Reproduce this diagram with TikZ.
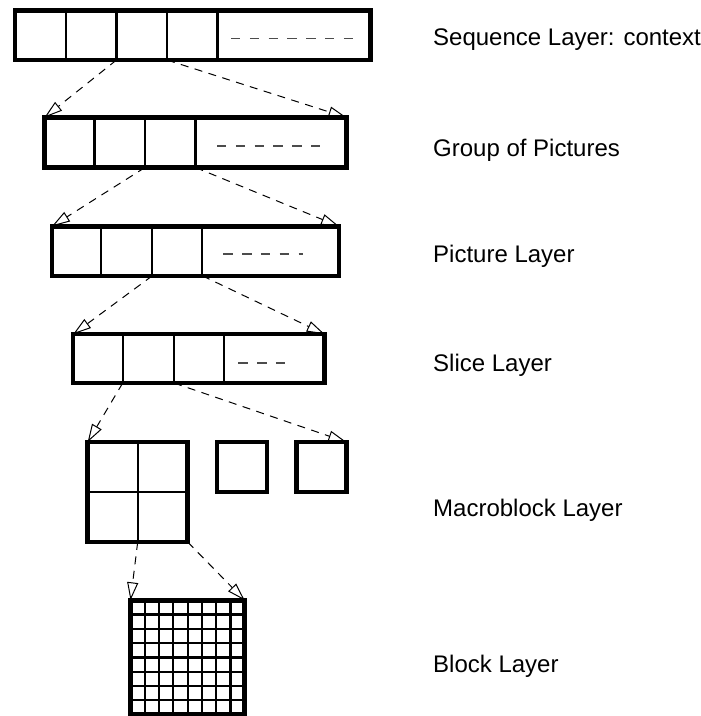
\documentclass[tikz,border=0pt]{standalone}
\usepackage{fontspec}
\setmainfont{Liberation Sans}
\usetikzlibrary{arrows.meta}

\begin{document}
\begin{tikzpicture}[x=1pt, y=-1pt,
        layerbox/.style={draw, line width=4.5pt, inner sep=0pt, outer sep=0pt, anchor=north west},
        cellline/.style={line width=2.2pt},
        moredata/.style={draw=black!70, line width=1.6pt, dash pattern=on 9.4pt off 9.4pt},
        expand/.style={line width=1pt, dash pattern=on 8pt off 6.5pt,
                -{Triangle[open, length=18pt, width=11pt, line width=1pt]}},
        layername/.style={anchor=base west, inner sep=0pt, font=\fontsize{24}{28}\selectfont}]

    \useasboundingbox (0,0) rectangle (701,716);

    % rows of the stream
    \node[layerbox, minimum width=355.5pt, minimum height=49.7pt] (seq) at (15,10.3) {};
    \foreach \x [count=\i] in {66,116.5,167,217.5}
        \draw[cellline] (\x,10.3) -- (\x,60) coordinate (seq bot \i);
    \draw[moredata] (231,38.3) -- (354.3,38.3);

    \node[layerbox, minimum width=302pt, minimum height=50pt] (gop) at (44.5,117.5) {};
    \foreach \x [count=\i] in {94.5,145,195.5}
        \draw[cellline] (\x,117.5) -- (\x,167.5) coordinate (gop bot \i);
    \draw[moredata] (217,146) -- (320,146);

    \node[layerbox, minimum width=287pt, minimum height=49.5pt] (pic) at (52,226.3) {};
    \foreach \x [count=\i] in {101,152.3,202.3}
        \draw[cellline] (\x,226.3) -- (\x,275.8) coordinate (pic bot \i);
    \draw[moredata] (223.3,254) -- (303.3,254);

    \node[layerbox, minimum width=251.5pt, minimum height=48.8pt] (slice) at (73.2,334.2) {};
    \foreach \x [count=\i] in {122.7,174,224}
        \draw[cellline] (\x,334.2) -- (\x,383) coordinate (slice bot \i);
    \draw[moredata] (238.3,362.7) -- (286.7,362.7);

    % macroblocks
    \node[layerbox, minimum size=100pt] (mb) at (87.7,442) {};
    \draw[cellline] (mb.north) -- (mb.south);
    \draw[cellline] (mb.west) -- (mb.east);
    \node[layerbox, minimum size=50pt] (mbone) at (217,442) {};
    \node[layerbox, minimum size=50pt] (mbtwo) at (296.3,442) {};

    % block
    \node[layerbox, minimum size=114.2pt] (blk) at (130.5,600.3) {};
    \foreach \i in {1,...,7} {
        \draw[cellline] (130.5+14.275*\i,600.3) -- (130.5+14.275*\i,714.5);
        \draw[cellline] (130.5,600.3+14.275*\i) -- (244.7,600.3+14.275*\i);
    }

    \draw[expand] (seq bot 2) -- (gop.north west);
    \draw[expand] (seq bot 3) -- (gop.north east);
    \draw[expand] (gop bot 2) -- (pic.north west);
    \draw[expand] (gop bot 3) -- (pic.north east);
    \draw[expand] (pic bot 2) -- (slice.north west);
    \draw[expand] (pic bot 3) -- (slice.north east);
    \draw[expand] (slice bot 1) -- (mb.north west);
    \draw[expand] (slice bot 2) -- (mbtwo.north east);
    \draw[expand] (mb.south) -- (blk.north west);
    \draw[expand] (mb.south east) -- (blk.north east);

    \node[layername] (seqname) at (433,45.5) {Sequence Layer: context};
    \node[layername] (gopname) at (433,156.5) {Group of Pictures};
    \node[layername] (picname) at (433,262.5) {Picture Layer};
    \node[layername] (slicename) at (433,371.5) {Slice Layer};
    \node[layername] (mbname) at (433,516.5) {Macroblock Layer};
    \node[layername] (blkname) at (433,672) {Block Layer};
\end{tikzpicture}
\end{document}
